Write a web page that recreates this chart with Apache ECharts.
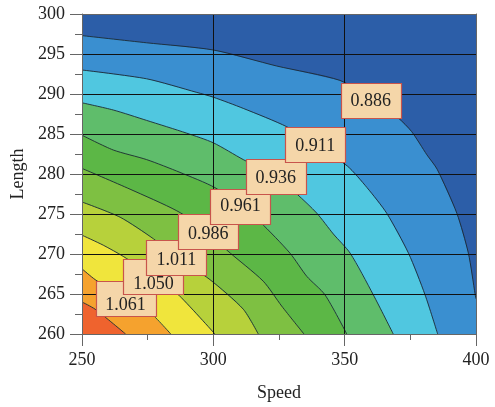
<!DOCTYPE html>
<html><head><meta charset="utf-8">
<script src="https://cdn.jsdelivr.net/npm/echarts@6/dist/echarts.min.js"></script>
<style>html,body{margin:0;padding:0;background:#fff}#c{width:495px;height:407px}</style>
</head><body><div id="c"></div>
<script>
// Axis ticks
const xTicks = [250, 300, 350, 400];
const yTicks = [260, 265, 270, 275, 280, 285, 290, 295, 300];

// Contour lines (Speed, Length), outermost first
const c1 = [[250,297.3],[274.6,296.4],[300,295.5],[324.1,293.5],[348.2,291.7],[360,289.4],[370.4,287.0],[375.5,285.3],[381.3,282.4],[385.2,280.6],[392.7,275.1],[397.1,270.1],[399.7,264.9],[400,264.4]];
const c2 = [[250,293.0],[274.6,291.9],[293.7,290.2],[300,289.6],[311.4,288.2],[328,285.9],[338.8,283.6],[351,281.0],[358.5,278.3],[366.0,275.1],[374.3,270.1],[380.6,264.9],[385.4,260]];
const c3 = [[250,288.9],[261.9,288.0],[274.6,286.7],[289.9,285.1],[300,283.9],[311.4,281.8],[323.8,279.7],[331.8,277.5],[339.4,275.1],[345.7,272.5],[352.1,270.1],[360.9,264.9],[368.5,260]];
const c4 = [[250,284.85],[261.9,283.0],[274.6,281.8],[287.3,280.2],[300.6,278.3],[310.2,276.0],[317.8,274.0],[329.2,270.1],[335.6,267.2],[342.5,264.9],[350.8,260]];
const c5 = [[250,280.7],[268.3,278.1],[286.1,275.4],[298.2,272.8],[305.1,270.5],[319.0,266.6],[326.0,263.5],[334.5,260]];
const c6 = [[250,276.5],[264.5,274.6],[277.2,271.9],[286.1,269.6],[298.7,266.8],[311.4,263.1],[317.1,260]];
const c7 = [[250,272.35],[258.1,271.1],[265.7,269.7],[277.2,267.2],[286.1,265.1],[300.6,260]];
const c8 = [[250,268.15],[255.0,266.8],[266.7,264.4],[274.6,263.1],[283.8,260]];
const c9 = [[250,264.0],[255.0,263.1],[266.6,260]];
const contours = [c1, c2, c3, c4, c5, c6, c7, c8, c9];

// Band fill colours: background, then inside each contour
const bandColors = ['#2c5ea8','#3a8fd0','#50c7e0','#5fbd6b','#5cb746','#7ec042','#b7d13b','#f0e53c','#f5a22e','#ef632e'];

// Contour labels: box centre (labelX, labelY) and text centre height (labelTextY)
const labelTexts = ['0.886','0.911','0.936','0.961','0.986','1.011','1.050','1.061'];
const labelX = [359.95, 338.8, 323.8, 310.3, 298.1, 285.9, 277.2, 266.6];
const labelY = [289.2, 283.65, 279.64, 276.0, 272.85, 269.57, 267.2, 264.48];
const labelTextY = [289.25, 283.65, 279.64, 276.05, 272.63, 269.32, 266.33, 263.74];

const X_MIN = xTicks[0], X_MAX = xTicks[xTicks.length-1];
const Y_MIN = yTicks[0], Y_MAX = yTicks[yTicks.length-1];

const chart = echarts.init(document.getElementById('c'));
const serif = '"Liberation Serif", "Times New Roman", serif';

function bandRender(params, api) {
  const i = params.dataIndex;
  if (i === 0) {
    const pts = [[X_MIN,Y_MIN],[X_MIN,Y_MAX],[X_MAX,Y_MAX],[X_MAX,Y_MIN]].map(p => api.coord(p));
    return {type:'polygon', shape:{points:pts}, style:{fill:bandColors[0]}};
  }
  const line = contours[i-1];
  const poly = line.slice();
  const last = line[line.length-1];
  if (last[1] > Y_MIN) poly.push([last[0], Y_MIN]);
  poly.push([X_MIN, Y_MIN]);
  return {
    type:'group',
    children:[
      {type:'polygon', shape:{points:poly.map(p=>api.coord(p))}, style:{fill:bandColors[i]}},
      {type:'polyline', shape:{points:line.map(p=>api.coord(p)), smooth:0.25}, style:{stroke:'#1c2a33', lineWidth:0.9, fill:null}}
    ]
  };
}

// labels drawn from the lowest (last) to the highest, so upper boxes sit on top
const labelOrder = labelTexts.map((_, i) => labelTexts.length - 1 - i);

function labelRender(params, api) {
  const i = labelOrder[params.dataIndex];
  const p = api.coord([labelX[i], labelY[i]]);
  const t = api.coord([labelX[i], labelTextY[i]]);
  const w = 60, h = 35;
  return {
    type:'group',
    children:[
      {type:'rect', shape:{x:Math.round(p[0]-w/2)+0.5, y:Math.round(p[1]-h/2)+0.5, width:w, height:h},
       style:{fill:'#f5d6a9', stroke:'#c8544c', lineWidth:1.2}},
      {type:'text', x:t[0], y:t[1]+1, style:{text:labelTexts[i], font:'18px ' + serif, fill:'#222', align:'center', verticalAlign:'middle'}}
    ]
  };
}

const tickColor = '#666';
chart.setOption({
  animation:false,
  grid:{left:82, right:19, top:14, bottom:69, containLabel:false},
  xAxis:[{
    type:'value', min:X_MIN, max:X_MAX, interval:50, z:10,
    axisLine:{show:true, onZero:false, lineStyle:{color:tickColor, width:1}},
    axisTick:{show:true, length:12, lineStyle:{color:tickColor}},
    minorTick:{show:true, splitNumber:2, length:6, lineStyle:{color:tickColor}},
    splitLine:{show:true, showMinLine:false, showMaxLine:false, lineStyle:{color:'#111', width:1}},
    axisLabel:{margin:17, fontSize:18, fontFamily:serif, color:'#222'},
    name:'Speed', nameLocation:'middle', nameGap:50,
    nameTextStyle:{fontSize:18, fontFamily:serif, color:'#222'}
  },{
    type:'value', position:'top', min:X_MIN, max:X_MAX, interval:50, z:10,
    axisLine:{show:true, onZero:false, lineStyle:{color:tickColor}},
    axisTick:{show:false}, axisLabel:{show:false}, splitLine:{show:false}
  }],
  yAxis:[{
    type:'value', min:Y_MIN, max:Y_MAX, interval:5, z:10,
    axisLine:{show:true, onZero:false, lineStyle:{color:tickColor, width:1}},
    axisTick:{show:true, length:12, lineStyle:{color:tickColor}},
    minorTick:{show:true, splitNumber:2, length:7, lineStyle:{color:tickColor}},
    splitLine:{show:true, showMinLine:false, showMaxLine:false, lineStyle:{color:'#111', width:1}},
    axisLabel:{margin:17, fontSize:18, fontFamily:serif, color:'#222'},
    name:'Length', nameLocation:'middle', nameGap:54, nameRotate:90,
    nameTextStyle:{fontSize:18, fontFamily:serif, color:'#222'}
  },{
    type:'value', position:'right', min:Y_MIN, max:Y_MAX, interval:5, z:10,
    axisLine:{show:true, onZero:false, lineStyle:{color:tickColor}},
    axisTick:{show:false}, axisLabel:{show:false}, splitLine:{show:false}
  }],
  series:[{
    type:'custom', z:1, renderItem:bandRender,
    data: bandColors.map((_, i) => [X_MIN, Y_MIN, i])
  },{
    type:'custom', z:20, renderItem:labelRender,
    data: labelOrder.map(i => [labelX[i], labelY[i]])
  }]
});
</script>
</body></html>
